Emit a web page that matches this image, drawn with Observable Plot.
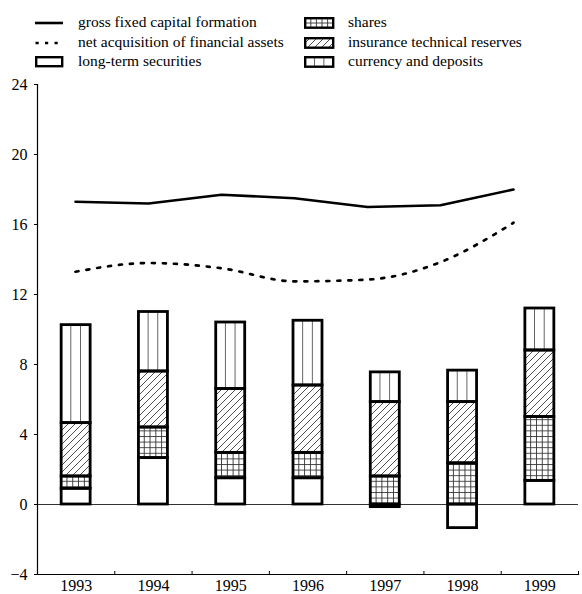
<!DOCTYPE html>
<html>
<head>
<meta charset="utf-8">
<script src="https://cdn.jsdelivr.net/npm/d3@7"></script>
<script src="https://cdn.jsdelivr.net/npm/@observablehq/plot@0.6"></script>
<style>
  html, body { margin: 0; padding: 0; background: #fff; }
  body { width: 582px; height: 594px; position: relative; overflow: hidden; font-family: "Liberation Serif", "Times New Roman", serif; }
  #legend { position: relative; width: 582px; height: 72px; font-size: 15.5px; color: #000; }
  #legend .item { position: absolute; white-space: nowrap; line-height: 18px; }
  #legend svg { position: absolute; overflow: visible; }
  #chart { position: relative; width: 582px; height: 522px; }
  #chart svg { position: absolute; left: 0; top: 0; }
</style>
</head>
<body>
<svg width="0" height="0" style="position:absolute">
  <defs>
    <pattern id="pat-grid" patternUnits="userSpaceOnUse" width="10" height="5.6">
      <rect width="10" height="5.6" fill="#fff"/>
      <line x1="0" y1="0.5" x2="10" y2="0.5" stroke="#333" stroke-width="0.9"/>
    </pattern>
    <pattern id="pat-diag" patternUnits="userSpaceOnUse" width="7" height="7">
      <rect width="7" height="7" fill="#fff"/>
      <path d="M-1,1 L1,-1 M0,7 L7,0 M6,8 L8,6" stroke="#222" stroke-width="0.8"/>
    </pattern>
  </defs>
</svg>
<div id="legend"></div>
<div id="chart"></div>
<script>
// ---- data ----
const years = ["1993", "1994", "1995", "1996", "1997", "1998", "1999"];
const categories = ["long-term securities", "shares", "insurance technical reserves", "currency and deposits"];
const longTerm  = [0.9, 2.65, 1.5, 1.5, -0.15, -1.35, 1.35];
const shares    = [0.7, 1.75, 1.45, 1.45, 1.6, 2.35, 3.65];
const insurance = [3.05, 3.2, 3.65, 3.85, 4.25, 3.5, 3.8];
const currency  = [5.6, 3.4, 3.8, 3.7, 1.7, 1.8, 2.4];
const gfcf      = [17.3, 17.2, 17.7, 17.5, 17.0, 17.1, 18.0];
const netAcq    = [13.3, 13.8, 13.5, 12.75, 12.85, 13.85, 16.1];
const yTicks    = [-4, 0, 4, 8, 12, 16, 20, 24];
const lineLabels = ["gross fixed capital formation", "net acquisition of financial assets"];

// ---- tables ----
const seriesByCat = [longTerm, shares, insurance, currency];
const rows = years.flatMap((y, i) => categories.map((c, k) => ({year: y, cat: c, value: seriesByCat[k][i]})));
const gfcfRows = years.map((y, i) => ({year: y, value: gfcf[i]}));
const netRows = years.map((y, i) => ({year: y, value: netAcq[i]}));

const fillOf = {
  "long-term securities": "#ffffff",
  "shares": "url(#pat-grid)",
  "insurance technical reserves": "url(#pat-diag)",
  "currency and deposits": "#ffffff"
};

// ---- layout ----
const W = 582, H = 522, ML = 37, MR = 4, MT = 12, MB = 20;
const PI = 0.625, PO = PI / 2;
const step = (W - ML - MR) / years.length;
const bw = step * (1 - PI);
const FONT = "'Liberation Serif', 'Times New Roman', serif";
const font = {fontFamily: FONT, fontSize: "16px", color: "#000", background: "transparent", overflow: "visible"};

const stackOpts = extra => Plot.stackY({x: "year", y: "value", ...extra});
const colStroke = (cat, color) => d => d.cat === cat ? color : "none";

const main = Plot.plot({
  width: W, height: H,
  marginLeft: ML, marginRight: MR, marginTop: MT, marginBottom: MB,
  style: font,
  x: {type: "band", domain: years, paddingInner: PI, paddingOuter: PO, round: false, label: null},
  y: {domain: [-4, 24], label: null},
  color: {type: "identity"},
  marks: [
    Plot.ruleY([0], {stroke: "#333", strokeWidth: 1}),
    Plot.barY(rows, stackOpts({fill: d => fillOf[d.cat]})),
    Plot.barY(rows, stackOpts({fill: "none", stroke: colStroke("currency and deposits", "#555"), strokeWidth: 0.9, insetLeft: bw / 3, insetRight: bw / 3})),
    Plot.barY(rows, stackOpts({fill: "none", stroke: colStroke("shares", "#333"), strokeWidth: 0.9, insetLeft: bw / 5, insetRight: 3 * bw / 5})),
    Plot.barY(rows, stackOpts({fill: "none", stroke: colStroke("shares", "#333"), strokeWidth: 0.9, insetLeft: 3 * bw / 5, insetRight: bw / 5})),
    Plot.barY(rows, stackOpts({fill: "none", stroke: "#000", strokeWidth: 2.8})),
    Plot.frame({anchor: "left", stroke: "#000", strokeWidth: 1.2}),
    Plot.frame({anchor: "bottom", stroke: "#000", strokeWidth: 1.2}),
    Plot.axisY({ticks: yTicks, tickSize: 3, tickPadding: 7, label: null}),
    Plot.axisX({tickSize: 0, tickPadding: 5, label: null}),
    Plot.axisX({tickSize: 3, dy: -3, dx: step / 2, tickFormat: () => "", label: null})
  ]
});

const lines = Plot.plot({
  width: W, height: H,
  marginLeft: ML, marginRight: 32, marginTop: MT, marginBottom: MB,
  style: font,
  x: {type: "point", domain: years, padding: 0.5, axis: null},
  y: {domain: [-4, 24], axis: null},
  marks: [
    Plot.line(gfcfRows, {x: "year", y: "value", stroke: "#000", strokeWidth: 2.6}),
    Plot.line(netRows, {x: "year", y: "value", stroke: "#000", strokeWidth: 2.7, strokeDasharray: "3,8", curve: "monotone-x"})
  ]
});
lines.style.background = "transparent";
lines.style.pointerEvents = "none";

document.getElementById("chart").append(main, lines);

// ---- legend ----
const legend = document.getElementById("legend");
function addItem(x, yc, label, swatchSvg, sx, sw, sh) {
  const s = document.createElementNS("http://www.w3.org/2000/svg", "svg");
  s.setAttribute("width", sw); s.setAttribute("height", sh);
  s.style.left = sx + "px"; s.style.top = (yc - sh / 2) + "px";
  s.innerHTML = swatchSvg;
  legend.appendChild(s);
  const t = document.createElement("div");
  t.className = "item"; t.textContent = label;
  t.style.left = x + "px"; t.style.top = (yc - 9.5) + "px";
  t.style.fontFamily = FONT;
  legend.appendChild(t);
}
addItem(78, 22.7, lineLabels[0], '<line x1="0" y1="3" x2="28" y2="3" stroke="#000" stroke-width="2.6"/>', 35, 28, 6);
addItem(78, 42.7, lineLabels[1], '<line x1="0.5" y1="3" x2="28" y2="3" stroke="#000" stroke-width="2.7" stroke-dasharray="3.2,6.3"/>', 35, 28, 6);
addItem(78, 61.5, categories[0], '<rect x="1.2" y="1.2" width="26" height="9" fill="#fff" stroke="#000" stroke-width="2.4"/>', 35, 28.4, 11.4);
const gridSw = '<rect x="1.2" y="1.2" width="28" height="9.5" fill="#fff"/>' +
  '<line x1="1.2" y1="6" x2="29.2" y2="6" stroke="#333" stroke-width="0.9"/>' +
  [1,2,3,4].map(k => `<line x1="${1.2 + k*5.6}" y1="1.2" x2="${1.2 + k*5.6}" y2="10.7" stroke="#333" stroke-width="0.9"/>`).join("") +
  '<rect x="1.2" y="1.2" width="28" height="9.5" fill="none" stroke="#000" stroke-width="2.4"/>';
addItem(348, 22.7, categories[1], gridSw, 304, 30.4, 12);
addItem(348, 42.7, categories[2], '<rect x="1.2" y="1.2" width="28" height="9.5" fill="url(#pat-diag)" stroke="#000" stroke-width="2.4"/>', 304, 30.4, 12);
const curSw = '<rect x="1.2" y="1.2" width="28" height="9.5" fill="#fff"/>' +
  [1,2].map(k => `<line x1="${1.2 + k*28/3}" y1="1.2" x2="${1.2 + k*28/3}" y2="10.7" stroke="#555" stroke-width="0.9"/>`).join("") +
  '<rect x="1.2" y="1.2" width="28" height="9.5" fill="none" stroke="#000" stroke-width="2.4"/>';
addItem(348, 61.8, categories[3], curSw, 304, 30.4, 12);
</script>
</body>
</html>
